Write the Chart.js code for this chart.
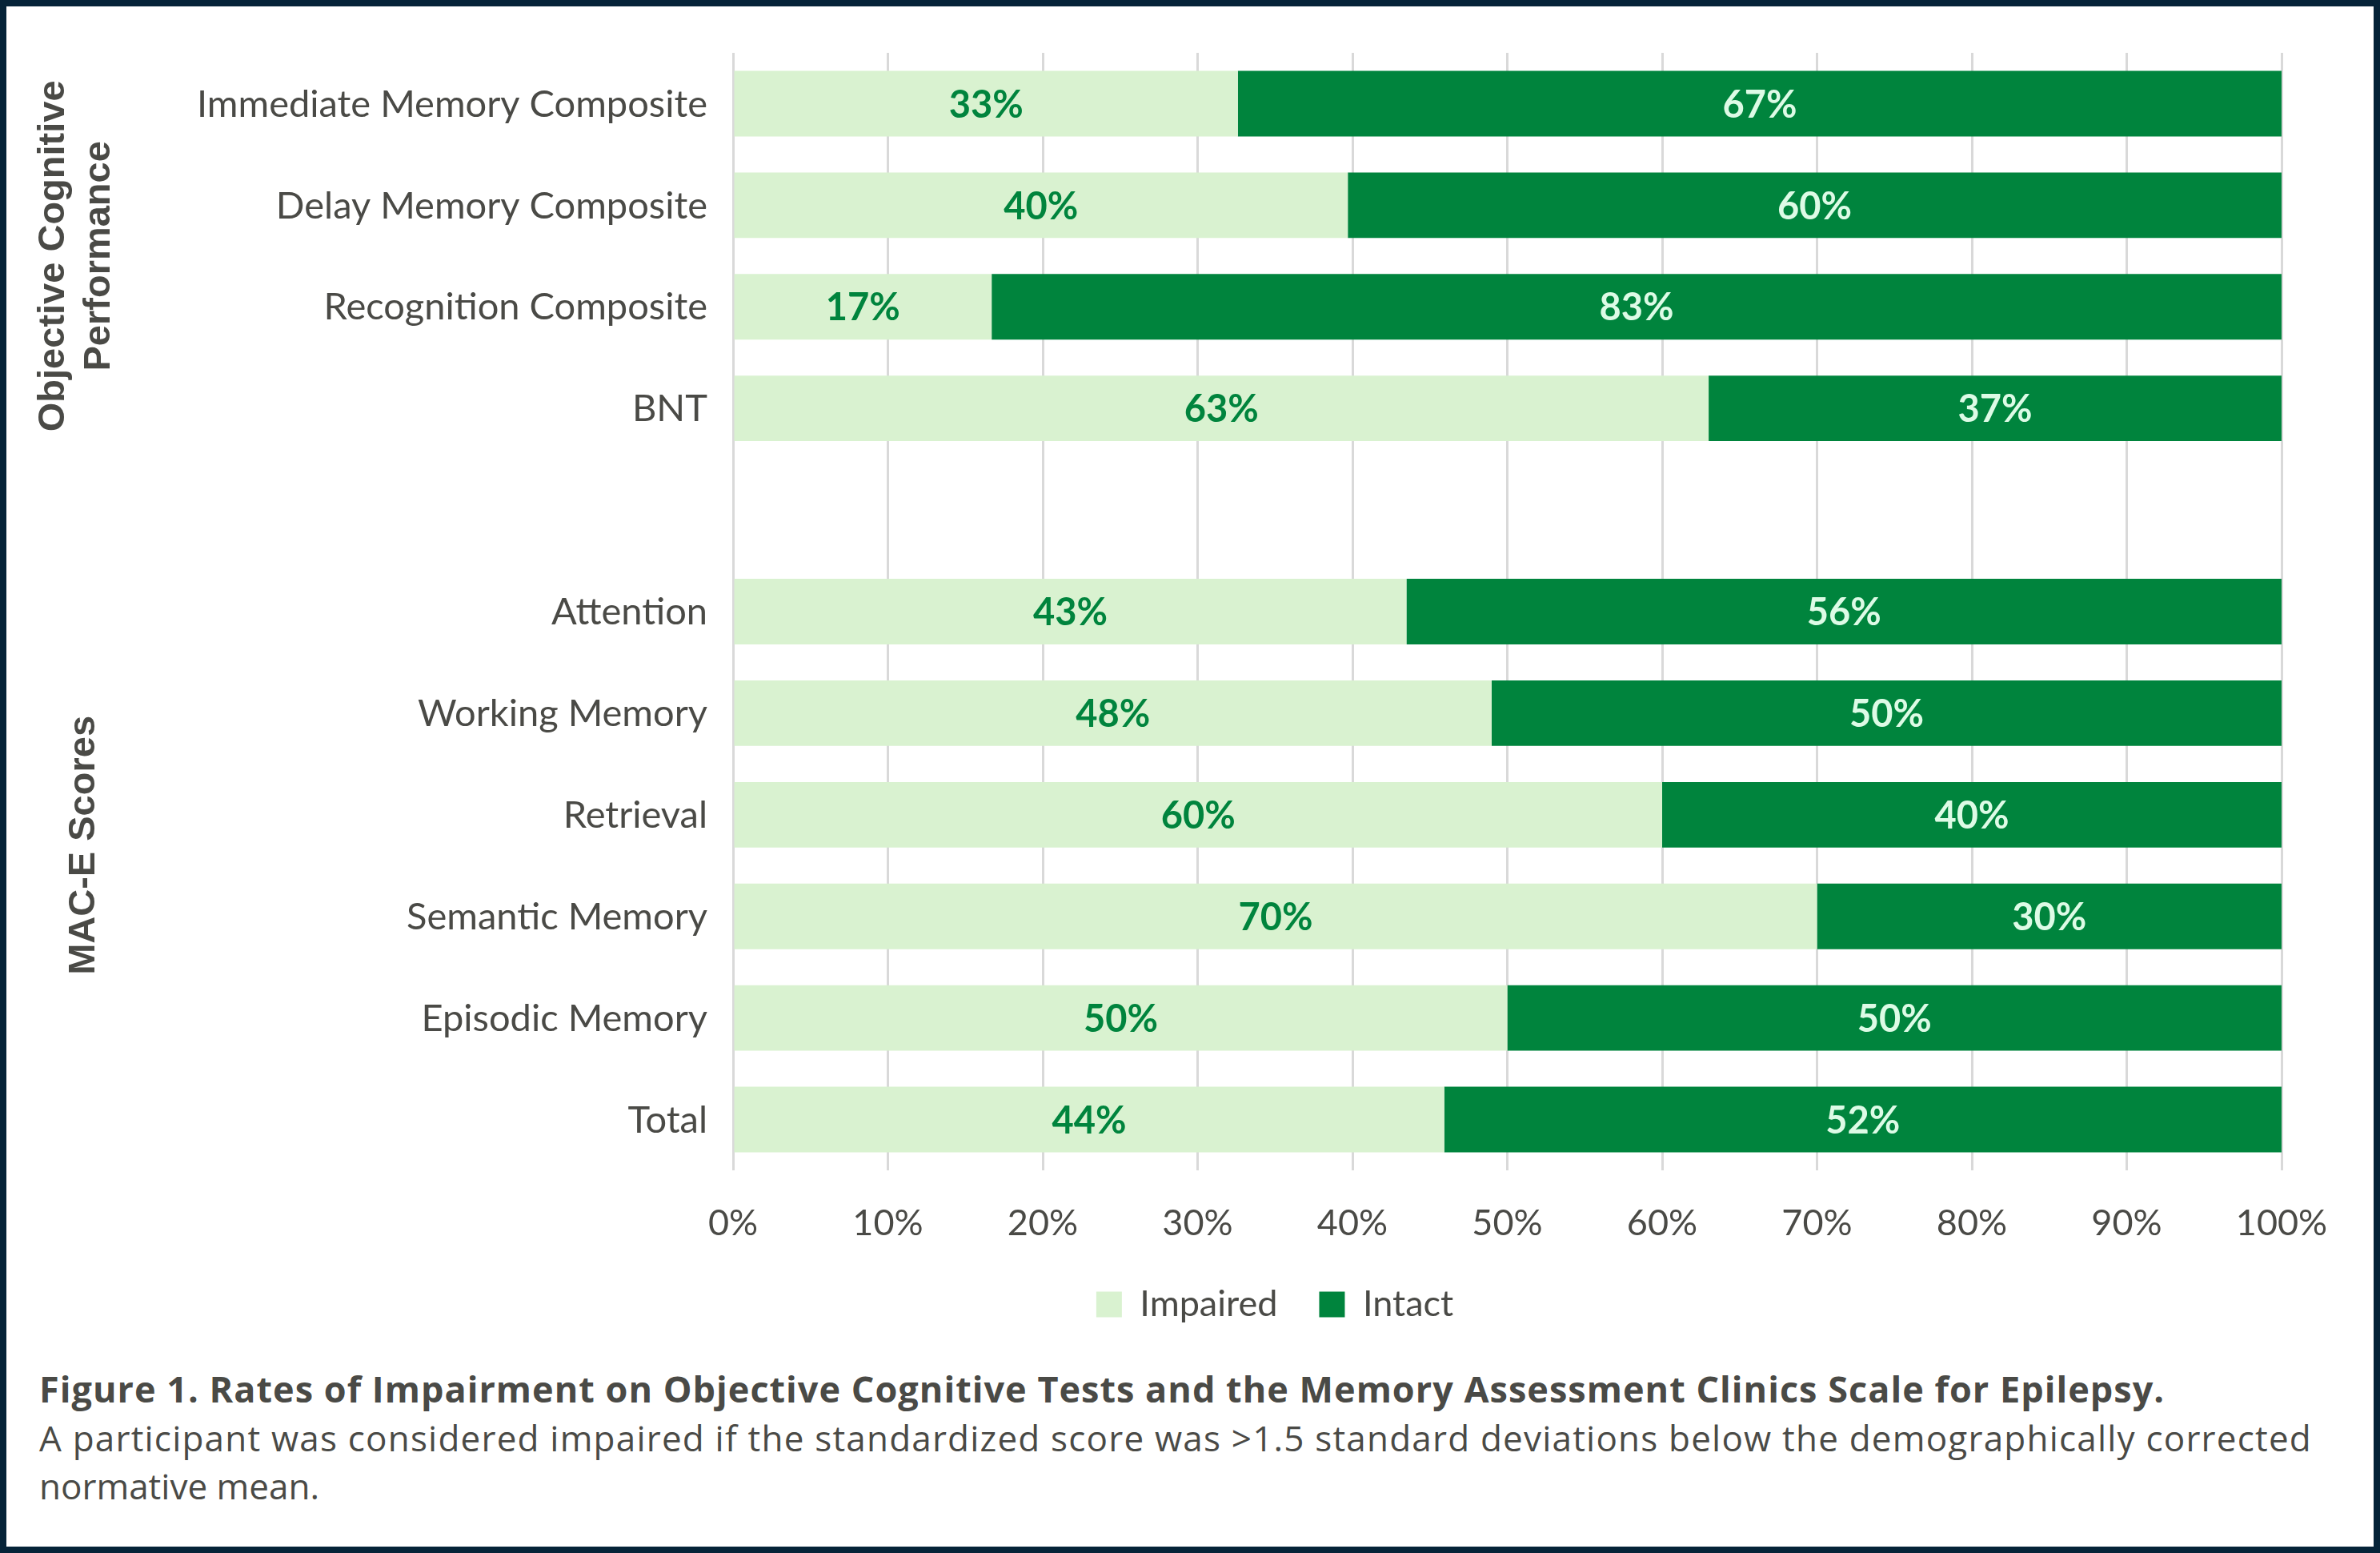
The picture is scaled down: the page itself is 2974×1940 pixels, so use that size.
<!DOCTYPE html>
<html>
<head>
<meta charset="utf-8">
<script src="https://cdn.jsdelivr.net/npm/chart.js@4.4.1/dist/chart.umd.min.js"></script>
<style>
  html, body { margin: 0; padding: 0; background: #fff; }
  #frame { position: absolute; left: 0; top: 0; width: 2974px; height: 1940px; box-sizing: border-box; border: 8px solid #052338; background: #fff; }
  #chartBox { position: absolute; left: 8px; top: 8px; width: 2958px; height: 1690px; }
  .cap { position: absolute; left: 49px; white-space: nowrap; color: #4a4a46; font-family: 'Open Sans'; font-size: 44px; line-height: 44px; }
  .cap.b { font-weight: bold; font-size: 45px; }
</style>
</head>
<body>
<div id="frame"></div>
<div id="chartBox"><canvas id="chartRates"></canvas></div>
<div class="cap b" data-w="2656" style="top:1713px">Figure 1. Rates of Impairment on Objective Cognitive Tests and the Memory Assessment Clinics Scale for Epilepsy.</div>
<div class="cap" data-w="2840" style="top:1774px">A participant was considered impaired if the standardized score was &gt;1.5 standard deviations below the demographically corrected</div>
<div class="cap" style="top:1834px">normative mean.</div>

<script>
/***************************************************/
/********************** DATA ***********************/
/***************************************************/
const categories = [
    'Immediate Memory Composite', 'Delay Memory Composite', 'Recognition Composite', 'BNT',
    '',
    'Attention', 'Working Memory', 'Retrieval', 'Semantic Memory', 'Episodic Memory', 'Total'
];
const impairedPct = [32.6, 39.7, 16.7, 63.0, null, 43.4, 48.3, 60.0, 70.0, 50.0, 44.0];
const intactPct   = [67.4, 60.3, 83.3, 37.0, null, 56.4, 50.3, 40.0, 30.0, 50.0, 51.8];
const seriesNames = ['Impaired', 'Intact'];
const xTickValues = [0, 10, 20, 30, 40, 50, 60, 70, 80, 90, 100];
// group titles on the far left, centred on a (fractional) category index
const groupTitles = [
    { lines: ['Objective Cognitive', 'Performance'], center: 1.5 },
    { lines: ['MAC-E Scores'], center: 7.3 }
];

/***************************************************/
/********************* STYLES **********************/
/***************************************************/
const lightGreen = '#D9F2D0';
const darkGreen = '#00843D';
const labelOnDark = '#DDFBE6';
const textGrey = '#4a4a46';
const gridGrey = '#D9D9D9';
const fontMain = 'Lato';

// 100% stacked: each row is shown as share of its own total
function toShare(values, other) {
    return values.map((v, i) => v == null ? null : v / (v + other[i]) * 100);
}

/***************************************************/
/******************** PLUGINS **********************/
/***************************************************/
const barValueLabels = {
    id: 'barValueLabels',
    afterDatasetsDraw(chart) {
        const ctx = chart.ctx;
        const rawSeries = [impairedPct, intactPct];
        const colors = [darkGreen, labelOnDark];
        ctx.save();
        ctx.font = 'bold 47px ' + fontMain;
        ctx.textAlign = 'center';
        ctx.textBaseline = 'middle';
        chart.data.datasets.forEach((ds, di) => {
            const meta = chart.getDatasetMeta(di);
            meta.data.forEach((bar, i) => {
                const raw = rawSeries[di][i];
                if (raw == null) return;
                ctx.fillStyle = colors[di];
                ctx.fillText(Math.round(raw) + '%', (bar.x + bar.base) / 2, bar.y + 2);
            });
        });
        ctx.restore();
    }
};

// category names drawn at the y scale's tick positions (no clipping to the axis box)
const categoryLabels = {
    id: 'categoryLabels',
    afterDraw(chart) {
        const ctx = chart.ctx;
        const yScale = chart.scales.y;
        ctx.save();
        ctx.font = '47px ' + fontMain;
        ctx.fillStyle = textGrey;
        ctx.textAlign = 'right';
        ctx.textBaseline = 'middle';
        categories.forEach((name, i) => {
            ctx.fillText(name, yScale.right - 32, yScale.getPixelForTick(i) + 1);
        });
        ctx.restore();
    }
};

const groupTitlePlugin = {
    id: 'groupTitles',
    afterDraw(chart) {
        const ctx = chart.ctx;
        const yScale = chart.scales.y;
        ctx.save();
        ctx.font = 'bold 47px "Liberation Sans", Arial';
        ctx.fillStyle = textGrey;
        ctx.textAlign = 'center';
        ctx.textBaseline = 'middle';
        groupTitles.forEach(g => {
            const cy = yScale.getPixelForValue(g.center);
            const n = g.lines.length;
            const lineGap = 57;
            const cx = n > 1 ? 88 : 97;
            g.lines.forEach((line, k) => {
                const x = cx + (k - (n - 1) / 2) * lineGap;
                ctx.save();
                ctx.translate(x, cy);
                ctx.rotate(-Math.PI / 2);
                ctx.fillText(line, 0, 0);
                ctx.restore();
            });
        });
        ctx.restore();
    }
};

/***************************************************/
/********************** CHART **********************/
/***************************************************/
function drawRatesChart() {
    const padLeft = 327;
    const canvas = document.getElementById('chartRates').getContext('2d');
    return new Chart(canvas, {
        type: 'bar',
        data: {
            labels: categories,
            datasets: [{
                label: seriesNames[0],
                data: toShare(impairedPct, intactPct),
                backgroundColor: lightGreen,
                barPercentage: 0.645,
                categoryPercentage: 1
            }, {
                label: seriesNames[1],
                data: toShare(intactPct, impairedPct),
                backgroundColor: darkGreen,
                barPercentage: 0.645,
                categoryPercentage: 1
            }]
        },
        options: {
            indexAxis: 'y',
            responsive: true,
            maintainAspectRatio: false,
            animation: false,
            layout: { padding: { left: padLeft, right: 115, top: 58, bottom: 36 } },
            scales: {
                x: {
                    stacked: true,
                    min: 0,
                    max: 100,
                    afterBuildTicks: scale => { scale.ticks = xTickValues.map(v => ({ value: v })); },
                    ticks: {
                        callback: v => v + '%',
                        color: textGrey,
                        font: { family: fontMain, size: 45 },
                        padding: 39,
                        maxRotation: 0
                    },
                    grid: { color: gridGrey, lineWidth: 3, drawTicks: false },
                    border: { display: false },
                    afterFit: scale => { scale.height = 93; }
                },
                y: {
                    stacked: true,
                    grid: { display: false },
                    border: { display: false },
                    ticks: { display: false },
                    afterFit: scale => { scale.width = 908 - padLeft; }
                }
            },
            plugins: {
                legend: {
                    display: true,
                    position: 'bottom',
                    labels: {
                        color: textGrey,
                        boxWidth: 32,
                        boxHeight: 32,
                        padding: 52,
                        font: { family: fontMain, size: 45 }
                    }
                },
                tooltip: { enabled: false }
            }
        },
        plugins: [barValueLabels, categoryLabels, groupTitlePlugin]
    });
}

// caption lines: spread letters so each line keeps the reference width
function fitCaptions() {
    document.querySelectorAll('.cap[data-w]').forEach(el => {
        const target = +el.dataset.w;
        const w = el.getBoundingClientRect().width;
        const n = el.textContent.length;
        el.style.letterSpacing = ((target - w) / n).toFixed(2) + 'px';
    });
}

drawRatesChart();
fitCaptions();
</script>
</body>
</html>
